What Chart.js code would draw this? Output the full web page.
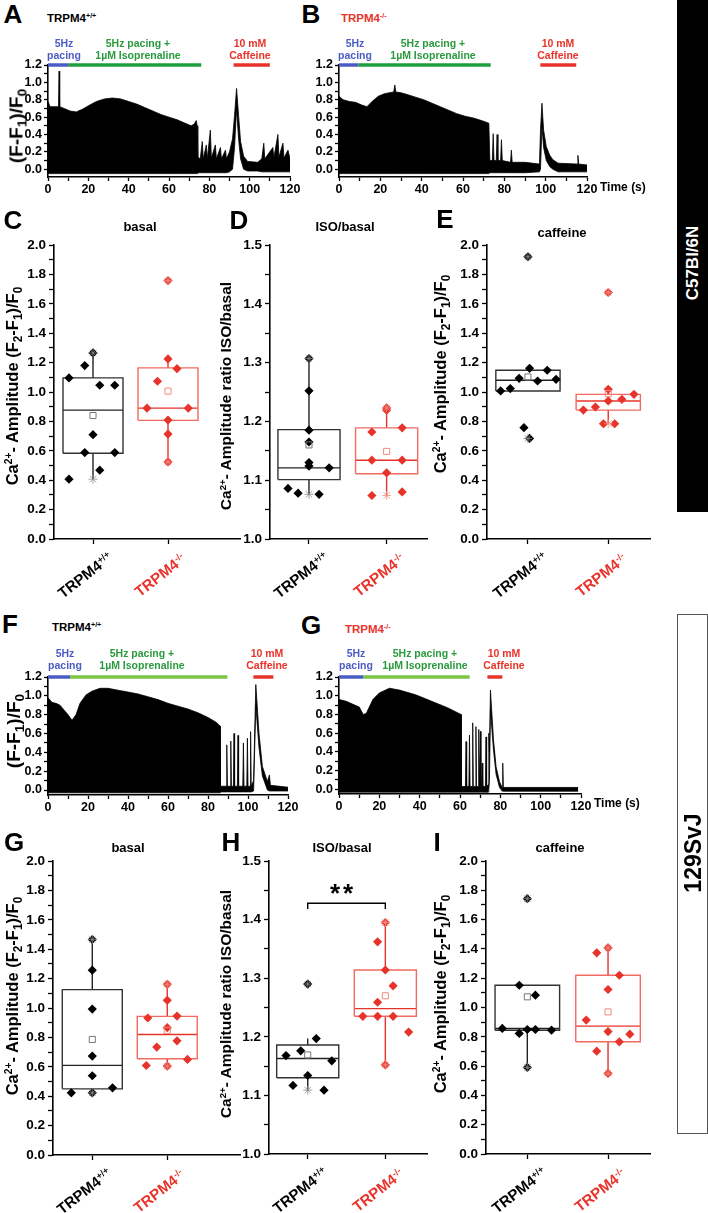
<!DOCTYPE html>
<html>
<head>
<meta charset="utf-8">
<script src="https://cdn.jsdelivr.net/npm/chart.js@4.4.1/dist/chart.umd.min.js"></script>
<style>
  html, body { margin: 0; padding: 0; background: #fff; }
  body { position: relative; width: 708px; height: 1213px; overflow: hidden;
         font-family: "Liberation Sans", Arial, Helvetica, sans-serif; font-weight: bold; color: #000; }
  canvas { position: absolute; z-index: 1; }
  .lbl { position: absolute; white-space: nowrap; line-height: 1; z-index: 2; }
  .lbl sup { font-size: 62%; vertical-align: 0; position: relative; top: -0.55em; }
  .lbl sub { font-size: 72%; vertical-align: 0; position: relative; top: 0.3em; }
  .side { position: absolute; z-index: 0; }
</style>
</head>
<body>
<script>
// ---------------- ticks ----------------
const ampTicks   = [0, 0.1, 0.2, 0.3, 0.4, 0.5, 0.6, 0.7, 0.8, 0.9, 1.0, 1.1, 1.2, 1.3, 1.4, 1.5, 1.6, 1.7, 1.8, 1.9, 2.0];
const ratioTicks = [1.0, 1.05, 1.1, 1.15, 1.2, 1.25, 1.3, 1.35, 1.4, 1.45, 1.5];
const traceTicks = [0, 0.1, 0.2, 0.3, 0.4, 0.5, 0.6, 0.7, 0.8, 0.9, 1.0, 1.1, 1.2];
const timeTicks  = [0, 10, 20, 30, 40, 50, 60, 70, 80, 90, 100, 110, 120];
const groupTicks = [1, 2];
const groups = ['TRPM4<sup>+/+</sup>', 'TRPM4<sup>-/-</sup>'];

// ---------------- traces: time (s), upper and lower envelope of (F-F1)/F0 ----------------
const A_time = [0, 1, 3, 5.2, 5.5, 5.8, 8, 11, 14, 17,
                20, 24, 28, 32, 36, 40, 44, 48, 52, 56,
                60, 64, 68, 71, 72.5, 73.5, 74, 74.3, 75.5, 76.5,
                77, 78.5, 79, 80.5, 81, 83, 83.5, 85.5, 86, 88,
                88.5, 90, 91.5, 92.5, 93.5, 94.5, 95.5, 97, 99, 104,
                106, 107, 107.5, 111.5, 112, 114, 114.5, 116.5, 117, 119, 120];
const A_high = [0.78, 0.72, 0.72, 0.72, 1.13, 0.72, 0.70, 0.67, 0.66, 0.69,
                0.73, 0.78, 0.81, 0.82, 0.81, 0.78, 0.75, 0.71, 0.67, 0.63,
                0.60, 0.57, 0.53, 0.50, 0.52, 0.56, 0.50, 0.14, 0.12, 0.32,
                0.12, 0.28, 0.12, 0.45, 0.13, 0.28, 0.12, 0.25, 0.12, 0.22,
                0.12, 0.20, 0.35, 0.62, 0.93, 0.62, 0.32, 0.15, 0.09, 0.08,
                0.12, 0.30, 0.12, 0.25, 0.13, 0.40, 0.14, 0.30, 0.13, 0.22, 0.12];
const A_low  = [-0.05, -0.05, -0.05, -0.05, -0.05, -0.05, -0.05, -0.05, -0.05, -0.05,
                -0.05, -0.05, -0.05, -0.05, -0.05, -0.05, -0.05, -0.05, -0.05, -0.05,
                -0.05, -0.05, -0.05, -0.05, -0.05, -0.05, -0.05, -0.04, -0.04, -0.04,
                -0.04, -0.04, -0.04, -0.04, -0.04, -0.04, -0.04, -0.04, -0.04, -0.04,
                -0.04, -0.03, 0.00, 0.25, 0.70, 0.35, 0.12, 0.00, -0.02, -0.02,
                -0.03, -0.03, -0.03, -0.03, -0.03, -0.03, -0.03, -0.03, -0.03, -0.03, -0.03];

const B_time = [0, 2, 5, 8, 11, 13.5, 16.5, 19, 22, 26.5,
                27, 27.5, 30, 33, 37, 41, 45, 49, 53, 57,
                61, 65, 69, 72.5, 73, 74.2, 74.6, 75, 76.1, 76.5,
                76.9, 78.2, 78.6, 79, 83, 83.4, 83.8, 90, 97, 97.5,
                98.2, 99, 100.3, 102, 103.5, 106, 115.2, 115.6, 116, 120];
const B_high = [0.84, 0.80, 0.78, 0.77, 0.74, 0.72, 0.79, 0.84, 0.87, 0.89,
                0.97, 0.89, 0.88, 0.86, 0.83, 0.80, 0.76, 0.72, 0.68, 0.64,
                0.61, 0.59, 0.56, 0.53, 0.10, 0.10, 0.41, 0.10, 0.10, 0.40,
                0.10, 0.10, 0.34, 0.10, 0.08, 0.22, 0.08, 0.08, 0.06, 0.45,
                0.76, 0.45, 0.26, 0.16, 0.11, 0.07, 0.06, 0.16, 0.06, 0.05];
const B_low  = [-0.05, -0.05, -0.05, -0.05, -0.05, -0.05, -0.05, -0.05, -0.05, -0.05,
                -0.05, -0.05, -0.05, -0.05, -0.05, -0.05, -0.05, -0.05, -0.05, -0.05,
                -0.05, -0.05, -0.05, -0.05, -0.04, -0.04, -0.04, -0.04, -0.04, -0.04,
                -0.04, -0.04, -0.04, -0.04, -0.04, -0.04, -0.04, -0.04, -0.03, 0.00,
                0.50, 0.25, 0.10, 0.03, 0.00, -0.03, -0.03, -0.03, -0.03, -0.03];

const F_time = [0, 2, 4, 6, 8, 10, 12, 14, 16, 19,
                22, 26, 30, 35, 40, 45, 50, 55, 60, 65,
                70, 75, 80, 84, 86, 86.2, 89.1, 89.4, 89.7, 91.1,
                91.4, 91.7, 92.7, 93.0, 93.3, 94.7, 95.0, 95.3, 97.4, 97.7,
                98.0, 99.4, 99.7, 100.0, 101.0, 101.3, 101.6, 102.8, 103.9, 105.5,
                107.2, 109.7, 110.7, 111.2, 120];
const F_high = [0.98, 0.93, 0.92, 0.90, 0.85, 0.80, 0.74, 0.80, 0.92, 1.01,
                1.05, 1.08, 1.08, 1.06, 1.04, 1.02, 0.99, 0.96, 0.92, 0.89,
                0.86, 0.82, 0.77, 0.72, 0.68, 0.04, 0.04, 0.48, 0.04, 0.04,
                0.52, 0.04, 0.04, 0.60, 0.04, 0.04, 0.58, 0.04, 0.04, 0.50,
                0.04, 0.04, 0.55, 0.04, 0.04, 0.62, 0.04, 0.10, 1.12, 0.60,
                0.25, 0.09, 0.16, 0.05, 0.03];
const F_low  = [-0.03, -0.03, -0.03, -0.03, -0.03, -0.03, -0.03, -0.03, -0.03, -0.03,
                -0.03, -0.03, -0.03, -0.03, -0.03, -0.03, -0.03, -0.03, -0.03, -0.03,
                -0.03, -0.03, -0.03, -0.03, -0.03, -0.02, -0.02, -0.02, -0.02, -0.02,
                -0.02, -0.02, -0.02, -0.02, -0.02, -0.02, -0.02, -0.02, -0.02, -0.02,
                -0.02, -0.02, -0.02, -0.02, -0.02, -0.02, -0.02, -0.01, 0.90, 0.45,
                0.15, 0.00, -0.01, -0.01, -0.01];

const G_time = [0, 3.6, 7.8, 10, 12, 13.5, 16.8, 20, 25, 30,
                38, 46, 54, 60.5, 60.7, 62.7, 63.0, 63.3, 64.4, 64.7,
                65.0, 66.0, 66.3, 66.6, 67.6, 67.9, 68.2, 69.0, 69.3, 69.6,
                69.8, 70.1, 70.4, 70.7, 71.0, 71.3, 72.6, 72.9, 73.2, 74.0,
                74.3, 74.6, 75.1, 76.6, 77.9, 79.6, 80.9, 81.2, 81.5, 118.6];
const G_high = [0.96, 0.94, 0.90, 0.88, 0.80, 0.81, 0.96, 1.03, 1.08, 1.06,
                1.01, 0.94, 0.87, 0.80, 0.03, 0.03, 0.51, 0.03, 0.03, 0.58,
                0.03, 0.03, 0.71, 0.03, 0.03, 0.67, 0.03, 0.03, 0.64, 0.03,
                0.03, 0.62, 0.03, 0.03, 0.28, 0.03, 0.03, 0.56, 0.03, 0.05,
                0.60, 0.40, 1.06, 0.53, 0.24, 0.08, 0.02, 0.28, 0.02, 0.02];
const G_low  = [-0.03, -0.03, -0.03, -0.03, -0.03, -0.03, -0.03, -0.03, -0.03, -0.03,
                -0.03, -0.03, -0.03, -0.03, -0.03, -0.03, -0.03, -0.03, -0.03, -0.03,
                -0.03, -0.03, -0.03, -0.03, -0.03, -0.03, -0.03, -0.03, -0.03, -0.03,
                -0.03, -0.03, -0.03, -0.03, -0.03, -0.03, -0.03, -0.03, -0.03, -0.03,
                0.00, 0.10, 0.85, 0.42, 0.16, 0.02, -0.02, -0.02, -0.02, -0.02];

// protocol periods (s): 5 Hz pacing, 5 Hz + isoprenaline, caffeine
const A_protocol = [[0, 10], [10, 76], [92, 110]];
const B_protocol = [[0, 9.4], [9.4, 73.4], [97.4, 114.8]];
const F_protocol = [[0, 11], [11, 89.7], [102.7, 112.7]];
const G_protocol = [[0, 12], [12, 64.8], [73.6, 81]];

// ---------------- amplitudes: individual cells ----------------
const C_wt = [1.266, 1.18, 1.096, 1.046, 1.046, 0.71, 0.588, 0.588, 0.468, 0.407];
const C_ko = [1.758, 1.225, 1.159, 1.073, 0.89, 0.89, 0.809, 0.714, 0.524];
const D_wt = [1.307, 1.252, 1.185, 1.165, 1.13, 1.124, 1.121, 1.086, 1.078, 1.076];
const D_ko = [1.223, 1.219, 1.189, 1.182, 1.134, 1.134, 1.1125, 1.08, 1.074];
const E_wt = [1.92, 1.161, 1.148, 1.093, 1.086, 1.075, 1.023, 1.007, 0.757, 0.684];
const E_ko = [1.677, 1.018, 0.984, 0.95, 0.939, 0.898, 0.877, 0.784, 0.784];
const Gb_wt = [1.466, 1.257, 0.993, 0.673, 0.539, 0.457, 0.423, 0.423];
const Gb_ko = [1.161, 1.052, 0.945, 0.932, 0.866, 0.777, 0.734, 0.65, 0.609, 0.605];
const H_wt = [1.29, 1.197, 1.176, 1.168, 1.159, 1.134, 1.117, 1.109];
const H_ko = [1.395, 1.362, 1.314, 1.287, 1.259, 1.235, 1.235, 1.235, 1.208, 1.152];
const I_wt = [1.743, 1.152, 1.084, 0.857, 0.85, 0.85, 0.845, 0.823, 0.591];
const I_ko = [1.407, 1.373, 1.22, 1.123, 0.914, 0.836, 0.818, 0.766, 0.702, 0.55];

// box summaries: [whisker low, Q1, median, Q3, whisker high] and mean
const C_wt_box = [0.407, 0.583, 0.877, 1.096, 1.266],  C_wt_mean = 0.84;
const C_ko_box = [0.524, 0.807, 0.89, 1.164, 1.225],   C_ko_mean = 1.006;
const D_wt_box = [1.076, 1.101, 1.121, 1.186, 1.307],  D_wt_mean = 1.16;
const D_ko_box = [1.074, 1.111, 1.134, 1.189, 1.223],  D_ko_mean = 1.149;
const E_wt_box = [1.007, 1.007, 1.08, 1.148, 1.161],   E_wt_mean = 1.102;
const E_ko_box = [0.784, 0.877, 0.939, 0.984, 1.018],  E_ko_mean = 0.989;
const Gb_wt_box = [0.423, 0.45, 0.61, 1.125, 1.466],   Gb_wt_mean = 0.786;
const Gb_ko_box = [0.605, 0.655, 0.82, 0.943, 1.161],  Gb_ko_mean = 0.848;
const H_wt_box = [1.109, 1.13, 1.163, 1.186, 1.197],   H_wt_mean = 1.169;
const H_ko_box = [1.152, 1.235, 1.248, 1.314, 1.395],  H_ko_mean = 1.27;
const I_wt_box = [0.591, 0.845, 0.857, 1.152, 1.152],  I_wt_mean = 1.073;
const I_ko_box = [0.55, 0.766, 0.873, 1.22, 1.407],    I_ko_mean = 0.97;

// significance bracket in H (group 1 vs group 2)
const H_sig = { from: 1, to: 2, level: 1.428, drop: 0.01, text: '**' };

// ---------------- layout (scatter offsets of the dots, in group units) ----------------
const C_wt_dx = [0, -0.11, -0.32, 0.09, 0.29, 0, -0.11, 0.29, 0.09, -0.32];
const C_ko_dx = [0, 0, 0.12, -0.14, -0.28, 0.27, 0, 0, 0];
const D_wt_dx = [0, 0, 0, 0, 0, 0, 0.26, -0.27, -0.14, 0.13];
const D_ko_dx = [0, 0, 0.2, -0.19, -0.19, 0.2, 0, 0.2, -0.19];
const E_wt_dx = [0, 0.02, 0.24, -0.11, 0.35, 0.12, -0.22, -0.34, -0.05, 0.02];
const E_ko_dx = [0, 0, 0.32, 0.17, 0, -0.16, -0.31, -0.06, 0.08];
const Gb_wt_dx = [0, 0, 0, 0, 0, 0.27, -0.28, 0];
const Gb_ko_dx = [0, 0, 0.13, -0.26, 0, 0.13, -0.14, 0.27, -0.28, 0];
const H_wt_dx = [0, 0.11, -0.09, -0.28, 0.31, 0, -0.19, 0.21];
const H_ko_dx = [0, -0.1, 0, 0.1, -0.1, -0.29, -0.1, 0.1, 0.3, 0];
const I_wt_dx = [0, -0.1, 0.1, -0.31, 0, 0.1, 0.3, -0.1, 0];
const I_ko_dx = [0, -0.14, 0.14, 0, -0.27, 0, 0.27, 0.14, -0.14, 0];

const FONT = '"Liberation Sans", Arial, sans-serif';
const BLUE = '#4a5cc4', GREEN_A = '#1e9e3c', GREEN_F = '#7cc544', GREEN_TXT = '#2a9a3e', RED = '#e8332b';
const PAD = { l: 4, t: 14, r: 14, b: 4 }, Y_W = 40, X_H = 24;

function text(html, x, y, css, rot, anchor) {
  const d = document.createElement('div');
  d.className = 'lbl';
  d.innerHTML = html;
  d.style.left = x + 'px';
  d.style.top = y + 'px';
  const tr = anchor === 'left' ? 'translate(0,-50%)' : 'translate(-50%,-50%)';
  d.style.transform = tr + (rot ? ' rotate(' + rot + 'deg)' : '');
  Object.assign(d.style, css || {});
  document.body.appendChild(d);
  return d;
}

function onStep(step, dec) {
  return v => Math.abs(v / step - Math.round(v / step)) < 1e-6 ? v.toFixed(dec) : '';
}

function axis(s, dir, st) {
  return {
    type: 'linear', min: s.min, max: s.max,
    afterBuildTicks: sc => { sc.ticks = s.ticks.map(v => ({ value: v })); },
    afterFit: sc => {
      if (dir === 'x') sc.height = X_H; else sc.width = Y_W;
      sc.paddingLeft = 0; sc.paddingRight = 0; sc.paddingTop = 0; sc.paddingBottom = 0;
    },
    ticks: {
      autoSkip: false, maxRotation: 0, minRotation: 0, padding: dir === 'x' ? 1 : st.pad, color: '#000',
      font: { family: FONT, size: st.size, weight: 'bold' },
      callback: v => (s.label ? s.label(v) : '')
    },
    grid: { drawOnChartArea: false, drawTicks: true, tickLength: st.tick, color: '#000', tickWidth: 1.3 },
    border: { display: true, color: '#000', width: 1.6 }
  };
}

function makeChart(rect, xs, ys, datasets, st) {
  const cv = document.createElement('canvas');
  cv.width = rect.r - rect.l + Y_W + PAD.l + PAD.r;
  cv.height = rect.b - rect.t + X_H + PAD.t + PAD.b;
  cv.style.left = (rect.l - Y_W - PAD.l) + 'px';
  cv.style.top = (rect.t - PAD.t) + 'px';
  document.body.appendChild(cv);
  return new Chart(cv, {
    type: 'line',
    data: { datasets },
    options: {
      responsive: false, animation: false, devicePixelRatio: 1,
      layout: { padding: { left: PAD.l, top: PAD.t, right: PAD.r, bottom: PAD.b } },
      plugins: { legend: { display: false }, tooltip: { enabled: false } },
      elements: { line: { tension: 0 } },
      scales: { x: axis(xs, 'x', st), y: axis(ys, 'y', st) }
    }
  });
}

function xy(xsArr, ysArr) { return xsArr.map((x, i) => ({ x, y: ysArr[i] })); }
function seg(data, color, width, extra) {
  return Object.assign({ data, borderColor: color, borderWidth: width, pointRadius: 0, fill: false }, extra || {});
}

// ---------------- trace panels ----------------
const traceStyle = { size: 12.5, tick: 4, pad: 2 };
function tracePanel(rect, yMin, time, high, low, protocol, green) {
  const cols = [BLUE, green, RED];
  const ds = protocol.map((p, i) => seg([{ x: p[0], y: 1.2 }, { x: p[1], y: 1.2 }], cols[i], 3.5,
                                        { clip: false, borderCapStyle: 'butt', order: 0 }));
  ds.push(seg(xy(time, high), '#000', 0.8, { fill: '+1', backgroundColor: '#000', order: 1 }));
  ds.push(seg(xy(time, low), '#000', 0.8, { order: 2 }));
  makeChart(rect,
    { min: 0, max: 120, ticks: timeTicks, label: onStep(20, 0) },
    { min: yMin, max: 1.2, ticks: traceTicks, label: onStep(0.2, 1) }, ds, traceStyle);
}

// ---------------- box panels ----------------
const boxStyle = { size: 13.5, tick: 5, pad: 3 };
function boxPanel(rect, xr, ys, sets) {
  const ds = [];
  sets.forEach(g => {
    const c = g.x, [wl, q1, md, q3, wh] = g.box, hw = 0.4;
    ds.push(seg(g.vals.map((v, i) => ({ x: c + g.dx[i], y: v })), g.col, 0,
      { showLine: false, pointStyle: 'rectRot', pointRadius: 4.6, pointBackgroundColor: g.col, pointBorderWidth: 0, order: 1 }));
    ds.push(seg([{ x: c, y: Math.min(...g.vals) }, { x: c, y: Math.max(...g.vals) }], g.starCol, 0,
      { showLine: false, pointStyle: 'star', pointRadius: 4.5, pointBorderColor: g.starCol, pointBorderWidth: 0.8, order: 0 }));
    ds.push(seg([{ x: c, y: g.mean }], g.meanCol, 0,
      { showLine: false, pointStyle: 'rect', pointRadius: 4.3, pointBackgroundColor: 'rgba(0,0,0,0)',
        pointBorderColor: g.meanCol, pointBorderWidth: 1, order: 0 }));
    ds.push(seg([{ x: c - hw, y: q1 }, { x: c + hw, y: q1 }, { x: c + hw, y: q3 }, { x: c - hw, y: q3 }, { x: c - hw, y: q1 }],
      g.boxCol, 1.4, { order: 3 }));
    ds.push(seg([{ x: c - hw, y: md }, { x: c + hw, y: md }], g.lineCol, 1.4, { order: 3 }));
    ds.push(seg([{ x: c, y: wl }, { x: c, y: q1 }, { x: c, y: null }, { x: c, y: q3 }, { x: c, y: wh }],
      g.lineCol, 1.4, { order: 3, spanGaps: false }));
  });
  if (rect.sig) {
    const s = rect.sig;
    ds.push(seg([{ x: s.from, y: s.level - s.drop }, { x: s.from, y: s.level }, { x: s.to, y: s.level }, { x: s.to, y: s.level - s.drop }],
      '#000', 1.4, { order: 3 }));
  }
  return makeChart(rect, { min: xr[0], max: xr[1], ticks: groupTicks }, ys, ds, boxStyle);
}

function wt(vals, dx, box, mean) {
  return { x: 1, vals, dx, box, mean, col: '#000', starCol: '#8a8a8a', meanCol: '#777', boxCol: '#333', lineCol: '#222' };
}
function ko(vals, dx, box, mean) {
  return { x: 2, vals, dx, box, mean, col: RED, starCol: '#f29088', meanCol: '#f08a80', boxCol: '#f26a60', lineCol: RED };
}

const ampAxis = { min: 0, max: 2, ticks: ampTicks, label: onStep(0.2, 1) };
const ratioAxis = { min: 1, max: 1.5, ticks: ratioTicks, label: onStep(0.1, 1) };

// C57Bl/6N row
tracePanel({ l: 48, r: 290, t: 65, b: 177 }, -0.089, A_time, A_high, A_low, A_protocol, GREEN_A);
tracePanel({ l: 339, r: 587, t: 65, b: 177 }, -0.089, B_time, B_high, B_low, B_protocol, GREEN_A);
boxPanel({ l: 54, r: 240, t: 245, b: 539 }, [0.48, 2.96], ampAxis,
  [wt(C_wt, C_wt_dx, C_wt_box, C_wt_mean), ko(C_ko, C_ko_dx, C_ko_box, C_ko_mean)]);
boxPanel({ l: 270, r: 427, t: 245, b: 539 }, [0.498, 2.52], ratioAxis,
  [wt(D_wt, D_wt_dx, D_wt_box, D_wt_mean), ko(D_ko, D_ko_dx, D_ko_box, D_ko_mean)]);
boxPanel({ l: 487, r: 650, t: 245, b: 539 }, [0.49, 2.52], ampAxis,
  [wt(E_wt, E_wt_dx, E_wt_box, E_wt_mean), ko(E_ko, E_ko_dx, E_ko_box, E_ko_mean)]);

// 129SvJ row
tracePanel({ l: 48, r: 288, t: 677, b: 795 }, -0.053, F_time, F_high, F_low, F_protocol, GREEN_F);
tracePanel({ l: 339, r: 581, t: 677, b: 794 }, -0.05, G_time, G_high, G_low, G_protocol, GREEN_F);
boxPanel({ l: 53, r: 240, t: 861, b: 1155 }, [0.476, 2.97], ampAxis,
  [wt(Gb_wt, Gb_wt_dx, Gb_wt_box, Gb_wt_mean), ko(Gb_ko, Gb_ko_dx, Gb_ko_box, Gb_ko_mean)]);
boxPanel({ l: 269, r: 427, t: 861, b: 1154, sig: H_sig }, [0.501, 2.537], ratioAxis,
  [wt(H_wt, H_wt_dx, H_wt_box, H_wt_mean), ko(H_ko, H_ko_dx, H_ko_box, H_ko_mean)]);
boxPanel({ l: 486, r: 650, t: 861, b: 1154 }, [0.488, 2.52], ampAxis,
  [wt(I_wt, I_wt_dx, I_wt_box, I_wt_mean), ko(I_ko, I_ko_dx, I_ko_box, I_ko_mean)]);

// ---------------- text ----------------
const big = { fontSize: '26px' };
[['A', 13, 14], ['B', 311, 14], ['C', 13, 220], ['D', 239, 220], ['E', 445, 219],
 ['F', 10, 624], ['G', 311, 625], ['G', 14, 842], ['H', 231, 842], ['I', 437, 842]]
  .forEach(l => text(l[0], l[1], l[2], big));

const ttl = { fontSize: '11.5px' };
text(groups[0], 47, 19, ttl, 0, 'left');
text(groups[1], 341, 19, Object.assign({ color: RED }, ttl), 0, 'left');
text(groups[0], 52, 628, ttl, 0, 'left');
text(groups[1], 345, 630, Object.assign({ color: RED }, ttl), 0, 'left');

function protoLabels(y, xs) {
  const st = { fontSize: '10.5px', lineHeight: '11.5px', textAlign: 'center' };
  text('5Hz<br>pacing', xs[0], y, Object.assign({ color: BLUE }, st));
  text('5Hz pacing +<br>1µM Isoprenaline', xs[1], y, Object.assign({ color: GREEN_TXT }, st));
  text('10 mM<br>Caffeine', xs[2], y, Object.assign({ color: RED }, st));
}
protoLabels(49, [64, 138, 250]);
protoLabels(49, [355, 433, 558]);
protoLabels(659, [65, 142, 267]);
protoLabels(659, [356, 425, 504]);

const yt = { fontSize: '19px' };
text('(F-F<sub>1</sub>)/F<sub>0</sub>', 16, 126, yt, -90);
text('(F-F<sub>1</sub>)/F<sub>0</sub>', 13, 731, yt, -90);
text('Time (s)', 600, 187, { fontSize: '12px' }, 0, 'left');
text('Time (s)', 594, 803, { fontSize: '12px' }, 0, 'left');

const ampTitle = 'Ca<sup>2+</sup>- Amplitude (F<sub>2</sub>-F<sub>1</sub>)/F<sub>0</sub>';
const ratioTitle = 'Ca<sup>2+</sup>- Amplitude ratio ISO/basal';
const yb = { fontSize: '16.5px' };
const yr = { fontSize: '15.5px' };
text(ampTitle, 12, 386, yb, -90);
text(ratioTitle, 226, 396, yr, -90);
text(ampTitle, 440, 374, yb, -90);
text(ampTitle, 12, 996, yb, -90);
text(ratioTitle, 226, 1004, yr, -90);
text(ampTitle, 440, 994, yb, -90);

const pt = { fontSize: '13px' };
text('basal', 140, 226, pt);
text('ISO/basal', 345, 226, pt);
text('caffeine', 562, 232, pt);
text('basal', 128, 847, pt);
text('ISO/basal', 342, 847, pt);
text('caffeine', 560, 847, pt);
text(H_sig.text, 343, 893, { fontSize: '26px', letterSpacing: '3px' });

// category labels under each box panel
const cat = { fontSize: '15px' };
[[93, 539], [309, 539], [528, 539], [92, 1155], [308, 1154], [527, 1154]].forEach(p => {
  const step = p[0] < 200 ? 75 : (p[0] < 450 ? 77.7 : 80.6);
  text(groups[0], p[0] - 8, p[1] + 36, cat, -38);
  text(groups[1], p[0] + step - 8, p[1] + 36, Object.assign({ color: RED }, cat), -38);
});

// strain side bars
const s1 = document.createElement('div');
s1.className = 'side';
Object.assign(s1.style, { left: '677px', top: '0px', width: '31px', height: '512px', background: '#000' });
document.body.appendChild(s1);
text('C57Bl/6N', 692, 263, { color: '#fff', fontSize: '17px' }, -90);
const s2 = document.createElement('div');
s2.className = 'side';
Object.assign(s2.style, { left: '677px', top: '614px', width: '29px', height: '518px', border: '1px solid #555', background: '#fff' });
document.body.appendChild(s2);
text('129SvJ', 693, 853, { fontSize: '23px' }, -90);
</script>
</body>
</html>
